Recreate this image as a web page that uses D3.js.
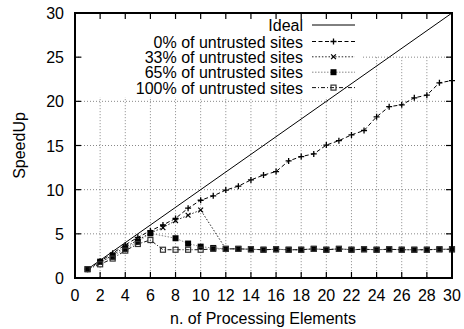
<!DOCTYPE html>
<html>
<head>
<meta charset="utf-8">
<script src="https://cdn.jsdelivr.net/npm/d3@7"></script>
<style>
  body { margin: 0; background: #fff; }
  svg text { font-family: "Liberation Sans", Arial, Helvetica, sans-serif; font-size: 16px; fill: #000; }
</style>
</head>
<body>
<div id="chart"></div>
<script>
'use strict';

// data
const xTicks = [0, 2, 4, 6, 8, 10, 12, 14, 16, 18, 20, 22, 24, 26, 28, 30];
const yTicks = [0, 5, 10, 15, 20, 25, 30];

const idealX = [1, 30];
const idealY = [1, 30];

const zeroX = [1, 2, 3, 4, 5, 6, 7, 8, 9, 10, 11, 12, 13, 14, 15, 16, 17, 18, 19, 20, 21, 22, 23, 24, 25, 26, 27, 28, 29, 30];
const zeroY = [1.0, 1.9, 2.8, 3.75, 4.6, 5.35, 6.0, 6.75, 7.9, 8.8, 9.3, 9.95, 10.4, 11.1, 11.65, 12.05, 13.25, 13.75, 14.05, 15.05, 15.55, 16.2, 16.7, 18.25, 19.4, 19.6, 20.4, 20.7, 22.1, 22.35];

const thirtyThreeX = [1, 2, 3, 4, 5, 6, 7, 8, 9, 10, 12, 13, 14, 15, 16, 17, 18, 19, 20, 21, 22, 23, 24, 25, 26, 27, 28, 29, 30];
const thirtyThreeY = [1.0, 1.75, 2.6, 3.5, 4.3, 5.1, 5.7, 6.5, 7.1, 7.7, 3.3, 3.3, 3.25, 3.2, 3.25, 3.2, 3.2, 3.3, 3.2, 3.3, 3.2, 3.25, 3.2, 3.25, 3.2, 3.2, 3.2, 3.25, 3.25];

const sixtyFiveX = [1, 2, 3, 4, 5, 6, 8, 9, 10, 11, 12, 13, 14, 15, 16, 17, 18, 19, 20, 21, 22, 23, 24, 25, 26, 27, 28, 29, 30];
const sixtyFiveY = [1.0, 1.85, 2.4, 3.3, 4.1, 5.05, 4.5, 3.9, 3.55, 3.4, 3.3, 3.3, 3.25, 3.2, 3.25, 3.2, 3.2, 3.3, 3.2, 3.3, 3.2, 3.25, 3.2, 3.25, 3.2, 3.2, 3.2, 3.25, 3.25];

const hundredX = [1, 2, 3, 4, 5, 6, 7, 8, 9, 10, 11, 12, 13, 14, 15, 16, 17, 18, 19, 20, 21, 22, 23, 24, 25, 26, 27, 28, 29, 30];
const hundredY = [1.0, 1.55, 2.2, 3.1, 3.85, 4.3, 3.2, 3.2, 3.2, 3.2, 3.3, 3.3, 3.3, 3.25, 3.2, 3.25, 3.2, 3.2, 3.3, 3.2, 3.3, 3.2, 3.25, 3.2, 3.25, 3.2, 3.2, 3.2, 3.25, 3.25];

const seriesNames = ["Ideal", "0% of untrusted sites", "33% of untrusted sites", "65% of untrusted sites", "100% of untrusted sites"];

function zip(xs, ys) {
    return xs.map((x, i) => ({ x: x, y: ys[i] }));
}

const series = [
    { name: seriesNames[0], points: zip(idealX, idealY), stroke: "#000", dash: null, marker: null },
    { name: seriesNames[1], points: zip(zeroX, zeroY), stroke: "#000", dash: "4,2.5", marker: "plus" },
    { name: seriesNames[2], points: zip(thirtyThreeX, thirtyThreeY), stroke: "#222", dash: "1.5,1.8", marker: "cross" },
    { name: seriesNames[3], points: zip(sixtyFiveX, sixtyFiveY), stroke: "#888", dash: "1.5,1.5", marker: "filled" },
    { name: seriesNames[4], points: zip(hundredX, hundredY), stroke: "#111", dash: "4,2,1,2", marker: "open" }
];

const width = 464,
    height = 329,
    plotLeft = 75, plotRight = 452, plotTop = 13, plotBottom = 278;

const svg = d3.select("#chart").append("svg")
    .attr("width", width)
    .attr("height", height);

const X = d3.scaleLinear().domain([0, 30]).range([plotLeft, plotRight]);
const Y = d3.scaleLinear().domain([0, 30]).range([plotBottom, plotTop]);

// grid
const grid = svg.append("g");
grid.selectAll(".vgrid")
    .data(xTicks.filter(d => d > 0 && d < 30))
    .enter().append("line")
    .attr("x1", d => X(d)).attr("x2", d => X(d))
    .attr("y1", Y(25)).attr("y2", plotBottom)
    .attr("stroke", "#888").attr("stroke-width", 1).attr("stroke-dasharray", "1,2");
grid.selectAll(".hgrid")
    .data(yTicks.filter(d => d > 0 && d < 30))
    .enter().append("line")
    .attr("x1", plotLeft).attr("x2", plotRight)
    .attr("y1", d => Y(d)).attr("y2", d => Y(d))
    .attr("stroke", "#888").attr("stroke-width", 1).attr("stroke-dasharray", "1,2");

// key area blanks the grid
svg.append("rect")
    .attr("x", 82).attr("y", plotTop + 1)
    .attr("width", 281).attr("height", 83)
    .attr("fill", "#fff");

// ticks (inward, mirrored)
const tickLen = 6;
const ticks = svg.append("g").attr("stroke", "#000").attr("stroke-width", 1.2);
xTicks.forEach(d => {
    ticks.append("line").attr("x1", X(d)).attr("x2", X(d)).attr("y1", plotBottom).attr("y2", plotBottom - tickLen);
    ticks.append("line").attr("x1", X(d)).attr("x2", X(d)).attr("y1", plotTop).attr("y2", plotTop + tickLen);
});
yTicks.forEach(d => {
    ticks.append("line").attr("x1", plotLeft).attr("x2", plotLeft + tickLen).attr("y1", Y(d)).attr("y2", Y(d));
    ticks.append("line").attr("x1", plotRight).attr("x2", plotRight - tickLen).attr("y1", Y(d)).attr("y2", Y(d));
});

// tick labels
svg.selectAll(".xlab")
    .data(xTicks)
    .enter().append("text")
    .attr("x", d => X(d))
    .attr("y", 301)
    .attr("text-anchor", "middle")
    .text(d => d);
svg.selectAll(".ylab")
    .data(yTicks)
    .enter().append("text")
    .attr("x", 64)
    .attr("y", d => Y(d) + 6)
    .attr("text-anchor", "end")
    .text(d => d);

// axis titles
svg.append("text")
    .attr("x", 263).attr("y", 324)
    .attr("text-anchor", "middle")
    .text("n. of Processing Elements");
svg.append("text")
    .attr("transform", "translate(25," + ((plotTop + plotBottom) / 2) + ") rotate(-90)")
    .attr("text-anchor", "middle")
    .text("SpeedUp");

// markers
function drawMarker(g, type, cx, cy) {
    const s = 3;
    if (type === "plus") {
        g.append("path")
            .attr("d", `M${cx - s},${cy}H${cx + s}M${cx},${cy - s}V${cy + s}`)
            .attr("stroke", "#000").attr("stroke-width", 1.3).attr("fill", "none");
    } else if (type === "cross") {
        const c = 2.4;
        g.append("path")
            .attr("d", `M${cx - c},${cy - c}L${cx + c},${cy + c}M${cx - c},${cy + c}L${cx + c},${cy - c}`)
            .attr("stroke", "#000").attr("stroke-width", 1.2).attr("fill", "none");
    } else if (type === "filled") {
        g.append("rect")
            .attr("x", cx - s).attr("y", cy - s).attr("width", 2 * s).attr("height", 2 * s)
            .attr("fill", "#000");
    } else if (type === "open") {
        g.append("rect")
            .attr("x", cx - s + 0.5).attr("y", cy - s + 0.5).attr("width", 2 * s - 1).attr("height", 2 * s - 1)
            .attr("fill", "none").attr("stroke", "#333").attr("stroke-width", 1.2);
    }
}

const line = d3.line().x(d => X(d.x)).y(d => Y(d.y));

series.forEach(s => {
    const g = svg.append("g");
    g.append("path")
        .datum(s.points)
        .attr("d", line)
        .attr("fill", "none")
        .attr("stroke", s.stroke)
        .attr("stroke-width", 1)
        .attr("stroke-dasharray", s.dash);
    if (s.marker) {
        s.points.forEach(p => drawMarker(g, s.marker, X(p.x), Y(p.y)));
    }
});

// key
const key = svg.append("g");
const keyRows = [25, 41.5, 56.8, 72.2, 87.6];
series.forEach((s, i) => {
    const ky = keyRows[i];
    key.append("text")
        .attr("x", 303).attr("y", ky + 6)
        .attr("text-anchor", "end")
        .text(s.name);
    key.append("line")
        .attr("x1", 312).attr("x2", 355)
        .attr("y1", ky).attr("y2", ky)
        .attr("stroke", s.stroke).attr("stroke-width", 1)
        .attr("stroke-dasharray", s.dash);
    if (s.marker) drawMarker(key, s.marker, 333.5, ky);
});

// border
svg.append("rect")
    .attr("x", plotLeft).attr("y", plotTop)
    .attr("width", plotRight - plotLeft).attr("height", plotBottom - plotTop)
    .attr("fill", "none")
    .attr("stroke", "#000")
    .attr("stroke-width", 2);
</script>
</body>
</html>
